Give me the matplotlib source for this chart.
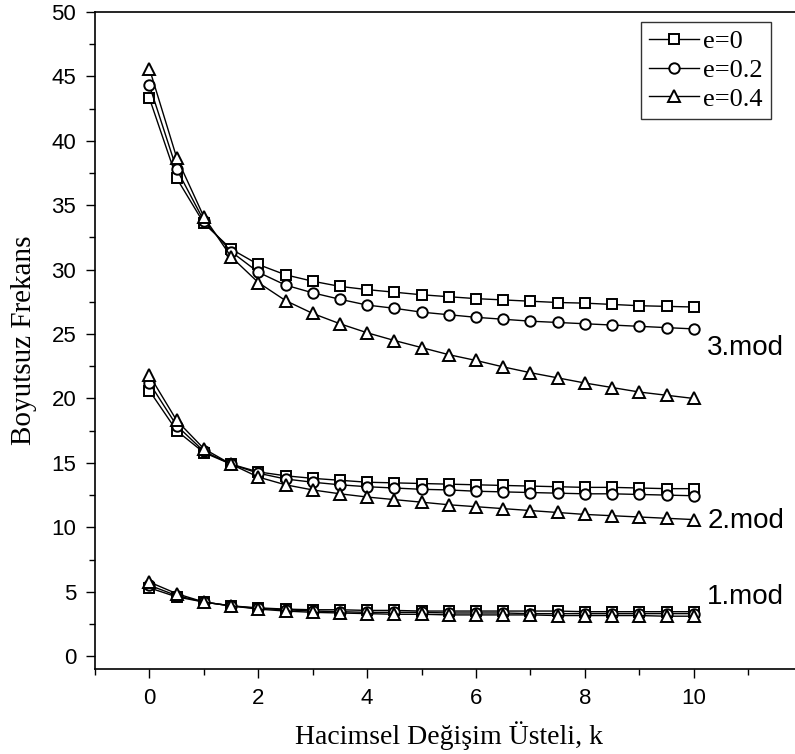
import matplotlib
matplotlib.use("Agg")
import matplotlib.pyplot as plt
from matplotlib.ticker import FixedLocator

k = [0, 0.5, 1, 1.5, 2, 2.5, 3, 3.5, 4, 4.5, 5, 5.5, 6, 6.5, 7, 7.5, 8, 8.5, 9, 9.5, 10]

# 1. mod
m1_e0 = [5.3, 4.6, 4.2, 3.9, 3.75, 3.65, 3.6, 3.6, 3.55, 3.55, 3.5, 3.5, 3.5, 3.5, 3.5, 3.5, 3.45, 3.45, 3.45, 3.45, 3.45]
m1_e02 = [5.5, 4.7, 4.2, 3.9, 3.7, 3.6, 3.5, 3.45, 3.4, 3.4, 3.4, 3.35, 3.35, 3.35, 3.3, 3.3, 3.3, 3.3, 3.3, 3.3, 3.3]
m1_e04 = [5.75, 4.85, 4.2, 3.9, 3.65, 3.5, 3.4, 3.35, 3.3, 3.25, 3.25, 3.2, 3.2, 3.2, 3.2, 3.15, 3.15, 3.15, 3.15, 3.1, 3.1]

# 2. mod
m2_e0 = [20.6, 17.5, 15.8, 14.9, 14.3, 14.0, 13.8, 13.65, 13.5, 13.45, 13.4, 13.35, 13.3, 13.25, 13.2, 13.15, 13.1, 13.1, 13.05, 13.0, 13.0]
m2_e02 = [21.2, 17.9, 15.9, 14.9, 14.2, 13.75, 13.5, 13.3, 13.15, 13.05, 12.95, 12.9, 12.8, 12.75, 12.7, 12.65, 12.6, 12.6, 12.55, 12.5, 12.45]
m2_e04 = [21.8, 18.3, 16.1, 14.9, 13.9, 13.3, 12.9, 12.6, 12.35, 12.15, 11.95, 11.75, 11.6, 11.45, 11.3, 11.15, 11.0, 10.9, 10.8, 10.7, 10.6]

# 3. mod
m3_e0 = [43.3, 37.1, 33.6, 31.6, 30.4, 29.6, 29.1, 28.7, 28.45, 28.25, 28.05, 27.9, 27.75, 27.65, 27.55, 27.45, 27.4, 27.3, 27.2, 27.15, 27.1]
m3_e02 = [44.3, 37.8, 33.8, 31.4, 29.8, 28.8, 28.2, 27.7, 27.25, 27.0, 26.7, 26.5, 26.3, 26.15, 26.0, 25.9, 25.8, 25.7, 25.6, 25.5, 25.4]
m3_e04 = [45.6, 38.7, 34.1, 31.0, 29.0, 27.6, 26.6, 25.8, 25.1, 24.5, 23.95, 23.4, 22.95, 22.45, 22.0, 21.6, 21.2, 20.85, 20.5, 20.25, 20.0]

labels = ["e=0", "e=0.2", "e=0.4"]
markers = ["s", "o", "^"]
modes = [
    ("1.mod", [m1_e0, m1_e02, m1_e04], 10.25, 4.6),
    ("2.mod", [m2_e0, m2_e02, m2_e04], 10.25, 10.5),
    ("3.mod", [m3_e0, m3_e02, m3_e04], 10.25, 23.9),
]
x_major = [0, 2, 4, 6, 8, 10]
x_minor = [-1, 1, 3, 5, 7, 9, 11]
y_major = [0, 5, 10, 15, 20, 25, 30, 35, 40, 45, 50]
y_minor = [2.5, 7.5, 12.5, 17.5, 22.5, 27.5, 32.5, 37.5, 42.5, 47.5]

fig = plt.figure(figsize=(7.95, 7.54), dpi=100)
ax = fig.add_axes([0.1195, 0.1127, 0.8901, 0.8714])

for name, series, tx, ty in modes:
    for vals, mk, lab in zip(series, markers, labels):
        ax.plot(k, vals, color="black", lw=1.0, marker=mk,
                markersize=7.5 if mk != "^" else 8.5,
                markerfacecolor="white", markeredgecolor="black",
                markeredgewidth=1.4,
                label=lab if name == "1.mod" else None)
    ax.text(tx, ty, name, fontsize=20, family="Liberation Sans",
            va="center", ha="left")

ax.set_xlim(-1, 12)
ax.set_ylim(-1, 50)
ax.xaxis.set_major_locator(FixedLocator(x_major))
ax.xaxis.set_minor_locator(FixedLocator(x_minor))
ax.yaxis.set_major_locator(FixedLocator(y_major))
ax.yaxis.set_minor_locator(FixedLocator(y_minor))
ax.tick_params(which="both", direction="out", top=False, right=False,
               width=1.0, labelsize=16, pad=7)
ax.tick_params(which="major", length=6.5)
ax.tick_params(which="minor", length=4)
for lbl in ax.get_xticklabels() + ax.get_yticklabels():
    lbl.set_family("Liberation Sans")
for sp in ax.spines.values():
    sp.set_linewidth(1.2)

ax.set_xlabel("Hacimsel Değişim Üsteli, k", family="Liberation Serif",
              fontsize=20, labelpad=9)
ax.set_ylabel("Boyutsuz Frekans", family="Liberation Serif",
              fontsize=21, labelpad=10)

leg = ax.legend(loc="upper right", bbox_to_anchor=(0.955, 0.985),
                prop={"family": "Liberation Serif", "size": 19},
                frameon=True, fancybox=False, edgecolor="black",
                handlelength=1.9, handletextpad=0.15, borderpad=0.3,
                labelspacing=0.2, borderaxespad=0.0, markerscale=1.0)
leg.get_frame().set_linewidth(1.0)

fig.savefig("out.png", dpi=100)
